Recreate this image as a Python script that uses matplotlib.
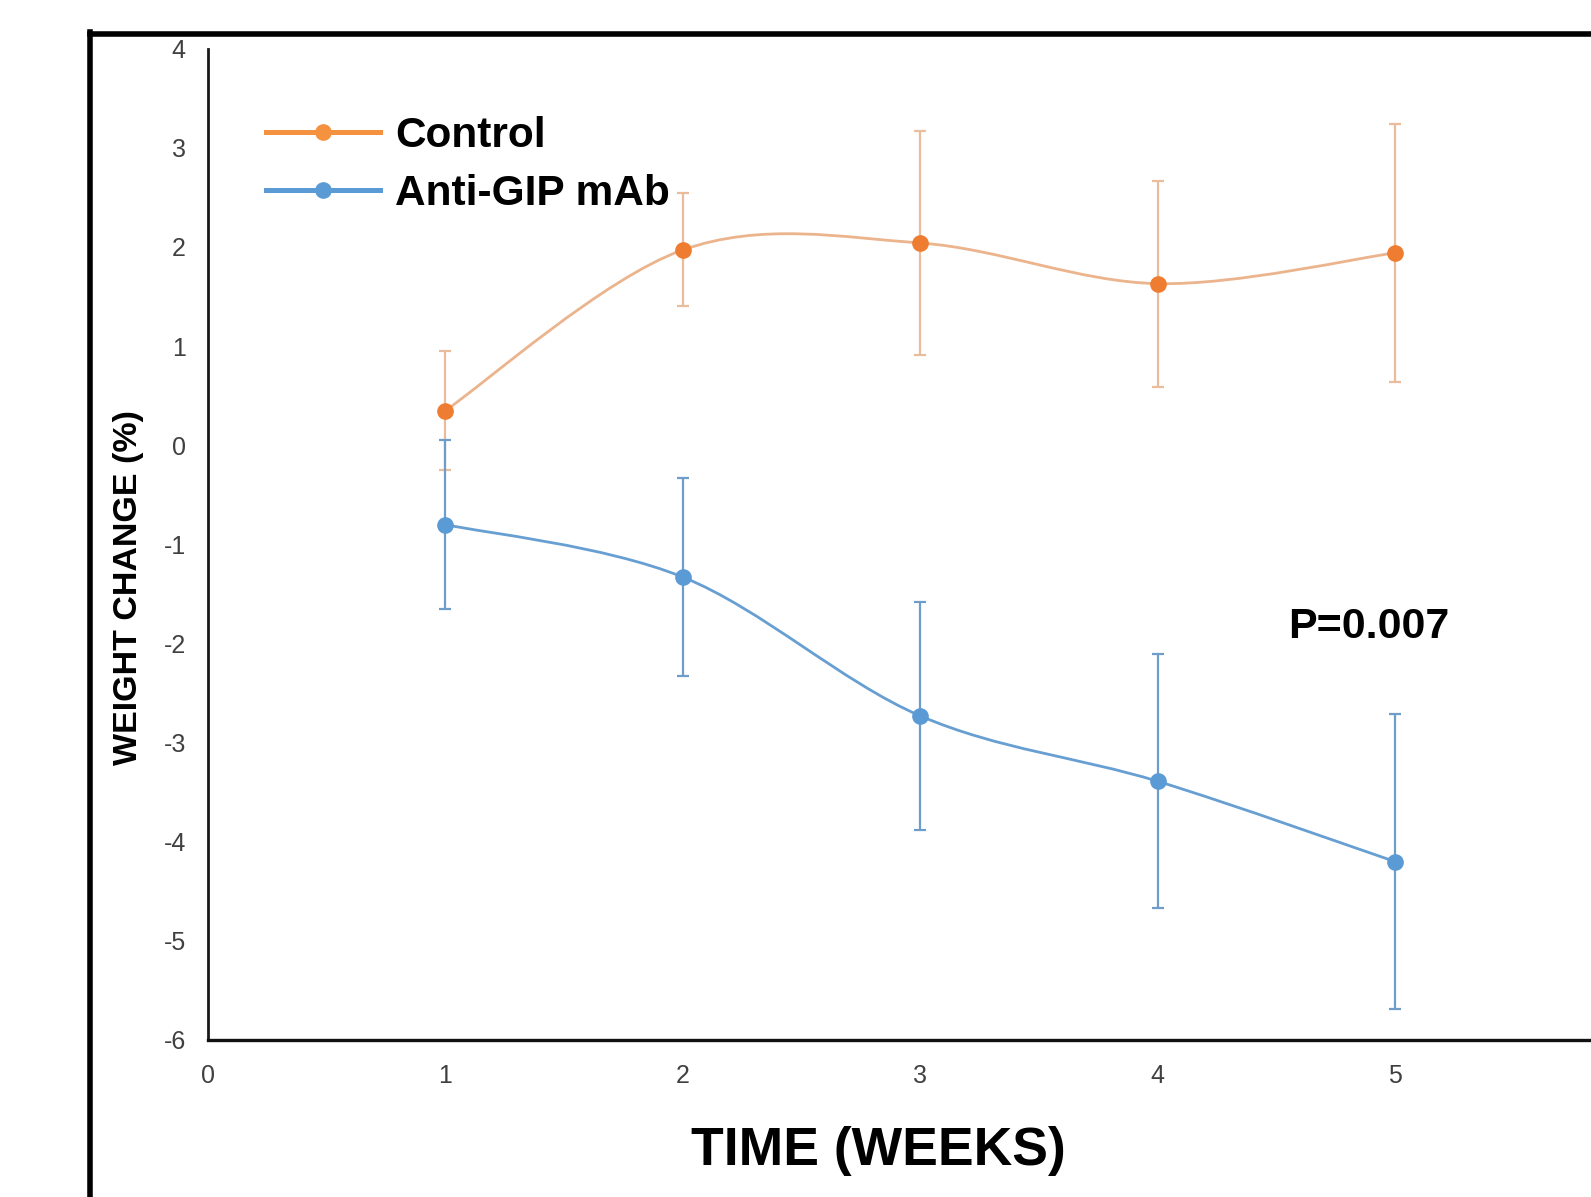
import numpy as np
import matplotlib
matplotlib.use("Agg")
import matplotlib.pyplot as plt
from matplotlib.path import Path
from matplotlib.patches import PathPatch
from matplotlib.lines import Line2D

plt.rcParams['font.family'] = ['Liberation Sans', 'DejaVu Sans']
plt.rcParams['axes.unicode_minus'] = False

# ---- data ----
weeks = [1, 2, 3, 4, 5]
control_mean = [0.35, 1.97, 2.04, 1.63, 1.94]
control_err = [0.60, 0.57, 1.13, 1.04, 1.30]
antigip_mean = [-0.80, -1.33, -2.73, -3.39, -4.20]
antigip_err = [0.85, 1.00, 1.15, 1.28, 1.49]
series_labels = ["Control", "Anti-GIP mAb"]
x_ticks = [0, 1, 2, 3, 4, 5]
y_ticks = [4, 3, 2, 1, 0, -1, -2, -3, -4, -5, -6]
p_text = "P=0.007"
x_label = "TIME (WEEKS)"
y_label = "WEIGHT CHANGE (%)"

# ---- styles ----
ORANGE_MK = "#EE7D31"
ORANGE_LN = "#EBB48C"
ORANGE_ERR = "#E9BC9C"
ORANGE_LEG = "#F4923F"
BLUE_MK = "#5B9BD5"
BLUE_LN = "#679FD2"
BLUE_ERR = "#6F9DC9"
BLUE_LEG = "#5B9BD5"

W, H = 1591, 1197
fig = plt.figure(figsize=(W / 100, H / 100), dpi=100)

# axes geometry (pixels in full-size image)
x0_px, unit_x = 208.0, 237.4
ytop_px, ybot_px = 48.7, 1040.0
ax = fig.add_axes([x0_px / W, 1 - ybot_px / H, 6 * unit_x / W, (ybot_px - ytop_px) / H])
ax.set_xlim(0, 6)
ax.set_ylim(-6, 4)
ax.set_facecolor("none")


def smooth_path(xs, ys):
    pts = np.column_stack([xs, ys]).astype(float)
    n = len(pts)
    verts = [pts[0]]
    codes = [Path.MOVETO]
    for i in range(n - 1):
        p_prev = pts[i - 1] if i > 0 else pts[i]
        p_next2 = pts[i + 2] if i + 2 < n else pts[i + 1]
        c1 = pts[i] + (pts[i + 1] - p_prev) / 6.0
        c2 = pts[i + 1] - (p_next2 - pts[i]) / 6.0
        verts += [c1, c2, pts[i + 1]]
        codes += [Path.CURVE4] * 3
    return Path(verts, codes)


for means, errs, ln, ec, mk in [
    (control_mean, control_err, ORANGE_LN, ORANGE_ERR, ORANGE_MK),
    (antigip_mean, antigip_err, BLUE_LN, BLUE_ERR, BLUE_MK),
]:
    ax.errorbar(weeks, means, yerr=errs, fmt="none", ecolor=ec, elinewidth=1.6,
                capsize=4, capthick=1.6, zorder=2)
    ax.add_patch(PathPatch(smooth_path(weeks, means), facecolor="none",
                           edgecolor=ln, lw=2.0, zorder=3))
    ax.plot(weeks, means, "o", color=mk, ms=11, mec=mk, zorder=4, linestyle="none")

# spines and ticks
for s in ["top", "right"]:
    ax.spines[s].set_visible(False)
ax.spines["left"].set_linewidth(2.0)
ax.spines["left"].set_color("#1a1a1a")
ax.spines["bottom"].set_linewidth(2.4)
ax.spines["bottom"].set_color("#111111")
ax.set_xticks(x_ticks)
ax.set_yticks(y_ticks)
ax.set_xticklabels([str(v) for v in x_ticks])
ax.set_yticklabels([str(v) for v in y_ticks])
ax.tick_params(axis="both", length=0, labelsize=18, labelcolor="#404040")
ax.tick_params(axis="x", pad=17)
ax.tick_params(axis="y", pad=16)

# legend
handles = [
    Line2D([0], [0], color=ORANGE_LEG, lw=3.6, marker="o", ms=11, mfc=ORANGE_LEG, mec=ORANGE_LEG),
    Line2D([0], [0], color=BLUE_LEG, lw=3.6, marker="o", ms=11, mfc=BLUE_LEG, mec=BLUE_LEG),
]
leg = ax.legend(handles, series_labels, loc="upper left",
                bbox_to_anchor=((262 * 1.0147 - x0_px) / (6 * unit_x), 0.932),
                frameon=False, handlelength=2.7, handletextpad=0.36,
                labelspacing=0.43, borderpad=0, borderaxespad=0,
                prop={"weight": "bold", "size": 30.5})

# p-value
ax.text(4.89, -1.83, p_text, fontsize=31, fontweight="bold", ha="center", va="center")

# axis labels
fig.text(878 / W, 1 - 1151 / H, x_label, fontsize=38.5, fontweight="bold",
         ha="center", va="center")
fig.text(128.9 / W, 1 - 587.5 / H, y_label, fontsize=24.5, fontweight="bold",
         ha="center", va="center", rotation=90)

# outer frame
fx = 89.5 / W
fy = 1 - 34 / H
fig.add_artist(Line2D([fx, fx], [fy + 0.002, -0.02], transform=fig.transFigure,
                      color="black", lw=4.0, solid_capstyle="projecting"))
fig.add_artist(Line2D([fx, 1.02], [fy, fy], transform=fig.transFigure,
                      color="black", lw=4.0, solid_capstyle="projecting"))

fig.savefig("out.png", dpi=100)
